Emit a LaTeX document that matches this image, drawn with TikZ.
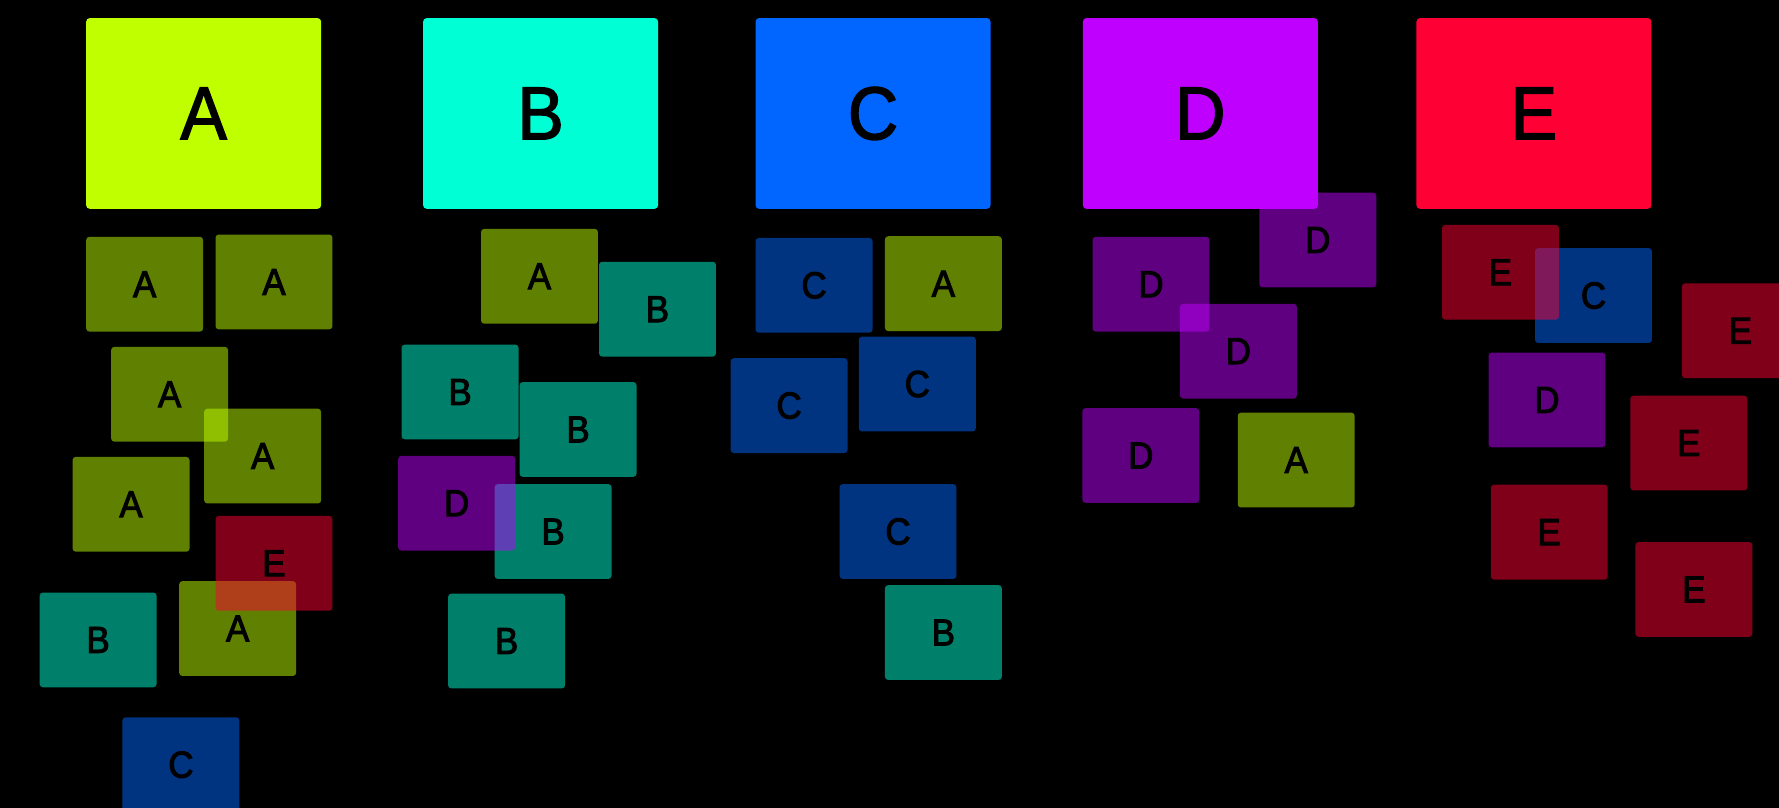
\documentclass[tikz,border=0pt]{standalone}
\usepackage{fontspec}
\setmainfont{Liberation Sans}
\newfontfamily\lblfont{Liberation Sans}[FakeBold=2.6, FakeStretch=0.93]
\newfontfamily\bigfont{Liberation Sans}[FakeBold=1.8, FakeStretch=0.93]
\definecolor{colA}{HTML}{BFFF00}
\definecolor{colB}{HTML}{00FFD5}
\definecolor{colC}{HTML}{0066FF}
\definecolor{colD}{HTML}{BF00FF}
\definecolor{colE}{HTML}{FF0035}
\tikzset{
  smallbox/.style={rectangle, rounded corners=0.8pt, inner sep=0pt,
    minimum width=1.03cm, minimum height=0.835cm, fill opacity=0.5, text opacity=1,
    text=black, font=\lblfont\fontsize{9.4}{10}\selectfont},
  bigbox/.style={rectangle, rounded corners=0.9pt, inner sep=0pt,
    minimum width=2.07cm, minimum height=1.68cm, text=black,
    font=\bigfont\fontsize{18.8}{20}\selectfont},
  sA/.style={smallbox, fill=colA},
  sB/.style={smallbox, fill=colB},
  sC/.style={smallbox, fill=colC},
  sD/.style={smallbox, fill=colD},
  sE/.style={smallbox, fill=colE},
}
\begin{document}
\begin{tikzpicture}[x=0.01cm, y=-0.01cm]
\fill[black] (0,0) rectangle (1568,712);
\useasboundingbox (0,0) rectangle (1568,712);
\begin{scope}
\clip (0,0) rectangle (1568,712);
% column A
\node[sA] (a1) at (127.5,250.5) {A};
\node[sA] (a2) at (241.5,248.5) {A};
\node[sA] (a3) at (149.5,347.5) {A};
\node[sA] (a4) at (231.5,402) {A};
\node[sA] (a5) at (115.5,444.5) {A};
\node[sB] (a7) at (86.5,564) {B};
\node[sA] (a8) at (209.5,554) {A};
\node[sE] (a6) at (241.5,496.5) {E};
\node[sC] (a9) at (159.5,674) {C};
% column B
\node[sA] (b1) at (475.5,243.5) {A};
\node[sB] (b2) at (579.5,272.5) {B};
\node[sB] (b3) at (405.5,345.5) {B};
\node[sB] (b4) at (509.5,378.5) {B};
\node[sB] (b5) at (487.5,468.5) {B};
\node[sD] (b6) at (402.5,443.5) {D};
\node[sB] (b7) at (446.5,565) {B};
% column C
\node[sC] (c1) at (717.5,251.5) {C};
\node[sA] (c2) at (831.5,250) {A};
\node[sC] (c3) at (695.5,357.5) {C};
\node[sC] (c4) at (808.5,338.5) {C};
\node[sC] (c5) at (791.5,468.5) {C};
\node[sB] (c6) at (831.5,557.5) {B};
% column D
\node[sD] (d1) at (1014.5,250.5) {D};
\node[sD] (d2) at (1161.5,211.5) {D};
\node[sD] (d3) at (1091.5,309.5) {D};
\node[sD] (d4) at (1005.5,401.5) {D};
\node[sA] (d5) at (1142.5,405.5) {A};
% column E
\node[sC] (e1) at (1404.5,260.5) {C};
\node[sE] (e2) at (1322.5,240) {E};
\node[sE] (e3) at (1534,291.5) {E};
\node[sD] (e4) at (1363.5,352.5) {D};
\node[sE] (e5) at (1488.5,390.5) {E};
\node[sE] (e6) at (1365.5,469) {E};
\node[sE] (e7) at (1493,519.5) {E};
% big boxes
\node[bigbox, fill=colA] (bigA) at (179.5,100) {A};
\node[bigbox, fill=colB] (bigB) at (476.5,100) {B};
\node[bigbox, fill=colC] (bigC) at (769.5,100) {C};
\node[bigbox, fill=colD] (bigD) at (1058,100) {D};
\node[bigbox, fill=colE] (bigE) at (1352,100) {E};
\end{scope}
\end{tikzpicture}
\end{document}
